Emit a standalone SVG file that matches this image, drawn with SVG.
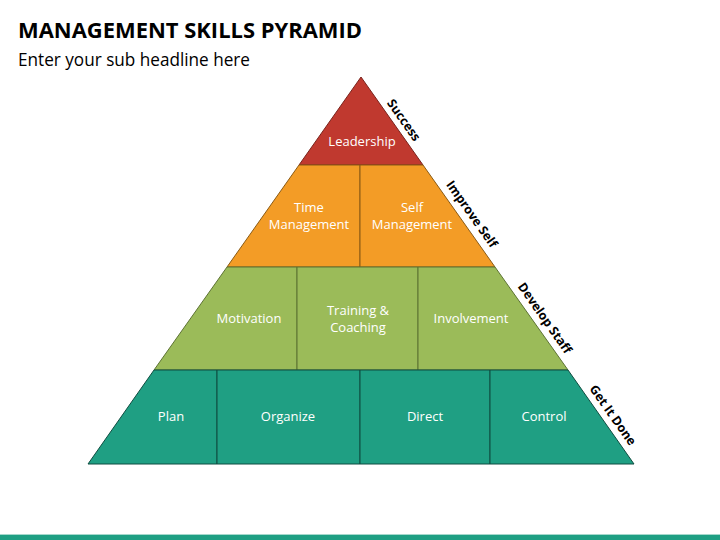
<svg xmlns="http://www.w3.org/2000/svg" width="720" height="540" viewBox="0 0 720 540">
<style>
.lbl{font-family:"Open Sans","Liberation Sans",sans-serif;font-size:13px;fill:#fff;text-anchor:middle}
.side{font-family:"Open Sans","Liberation Sans",sans-serif;font-size:12.5px;font-weight:bold;fill:#000;text-anchor:middle}
.red{fill:#C0392F;stroke:#7a231c;stroke-width:1}
.org{fill:#F39C26;stroke:#8a5a14;stroke-width:1}
.grn{fill:#9BBB59;stroke:#5d7333;stroke-width:1}
.tea{fill:#1F9F83;stroke:#0f4d40;stroke-width:1}
</style>
<rect width="720" height="540" fill="#fff"/>
<text x="18" y="38" font-family="'Open Sans','Liberation Sans',sans-serif" font-weight="bold" font-size="22" textLength="344" lengthAdjust="spacingAndGlyphs" fill="#000">MANAGEMENT SKILLS PYRAMID</text>
<text x="18" y="66" font-family="'Open Sans','Liberation Sans',sans-serif" font-size="18" textLength="232" lengthAdjust="spacingAndGlyphs" fill="#000">Enter your sub headline here</text>
<g id="tier-leadership">
<polygon class="red" points="361,77 423,165 299,165"/>
<text class="lbl" x="362" y="146">Leadership</text>
</g>
<g id="tier-self">
<polygon class="org" points="299,165 360,165 360,267 227,267"/>
<polygon class="org" points="360,165 423,165 495,267 360,267"/>
<text class="lbl" x="309" y="212">Time</text>
<text class="lbl" x="309" y="229">Management</text>
<text class="lbl" x="412" y="212">Self</text>
<text class="lbl" x="412" y="229">Management</text>
</g>
<g id="tier-staff">
<polygon class="grn" points="227,267 297,267 297,370 154,370"/>
<polygon class="grn" points="297,267 418,267 418,370 297,370"/>
<polygon class="grn" points="418,267 495,267 568,370 418,370"/>
<text class="lbl" x="249" y="323">Motivation</text>
<text class="lbl" x="358" y="315">Training &amp;</text>
<text class="lbl" x="358" y="332">Coaching</text>
<text class="lbl" x="471" y="323">Involvement</text>
</g>
<g id="tier-done">
<polygon class="tea" points="154,370 217,370 217,464 88,464"/>
<polygon class="tea" points="217,370 360,370 360,464 217,464"/>
<polygon class="tea" points="360,370 490,370 490,464 360,464"/>
<polygon class="tea" points="490,370 568,370 634,464 490,464"/>
<text class="lbl" x="171" y="421">Plan</text>
<text class="lbl" x="288" y="421">Organize</text>
<text class="lbl" x="425" y="421">Direct</text>
<text class="lbl" x="544" y="421">Control</text>
</g>
<g id="side-labels">
<text class="side" transform="translate(404,120) rotate(54.8)" dy="4.5">Success</text>
<text class="side" transform="translate(472,214) rotate(54.8)" dy="4.5">Improve Self</text>
<text class="side" transform="translate(545,318) rotate(54.8)" dy="4.5">Develop Staff</text>
<text class="side" transform="translate(613,415) rotate(54.8)" dy="4.5">Get It Done</text>
</g>
<rect x="0" y="534" width="720" height="0.8" fill="#8fcfc0"/>
<rect x="0" y="535" width="720" height="5" fill="#1F9F83"/>
</svg>
